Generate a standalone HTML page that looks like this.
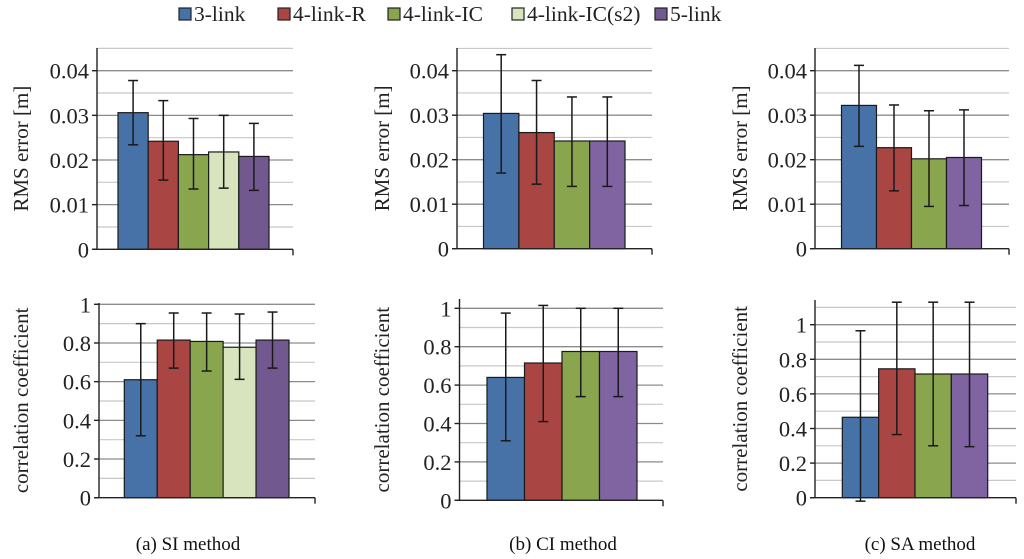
<!DOCTYPE html>
<html><head><meta charset="utf-8"><style>
body{margin:0;background:#fff;width:1024px;height:559px;overflow:hidden}
svg{display:block;font-family:"Liberation Serif",serif}
</style></head><body>
<svg id="c" width="1024" height="559"></svg>
<script>
const seriesNames=["3-link","4-link-R","4-link-IC","4-link-IC(s2)","5-link"];
const seriesColors=["#4672a8","#a94543","#89a54e","#d8e4bd","#71588f"];
const purpleLight="#8064a2";
// RMS values
const siRms=[0.0306,0.0242,0.0212,0.0218,0.0208];
const siRmsLo=[0.0234,0.0155,0.0135,0.0137,0.0132];
const siRmsHi=[0.0378,0.0333,0.0293,0.0300,0.0282];
const ciRms=[0.0304,0.0261,0.0242,0.0242];
const ciRmsLo=[0.0170,0.0145,0.0140,0.0140];
const ciRmsHi=[0.0436,0.0378,0.0341,0.0341];
const saRms=[0.0322,0.0227,0.0202,0.0205];
const saRmsLo=[0.0230,0.0130,0.0095,0.0097];
const saRmsHi=[0.0412,0.0323,0.0310,0.0312];
// correlation values
const siCor=[0.61,0.815,0.808,0.778,0.815];
const siCorLo=[0.32,0.67,0.655,0.612,0.67];
const siCorHi=[0.90,0.955,0.955,0.95,0.96];
const ciCor=[0.64,0.715,0.775,0.775];
const ciCorLo=[0.31,0.41,0.54,0.54];
const ciCorHi=[0.975,1.015,1.0,1.0];
const saCor=[0.465,0.745,0.715,0.715];
const saCorLo=[-0.02,0.365,0.30,0.295];
const saCorHi=[0.965,1.13,1.13,1.13];
const rmsTicks=["0","0.01","0.02","0.03","0.04"];
const corTicks=["0","0.2","0.4","0.6","0.8","1"];
const fourIdx=[0,1,2,4];
const captions=["(a) SI method","(b) CI method","(c) SA method"];

const svg=document.getElementById('c');
const NS="http://www.w3.org/2000/svg";
function mk(tag,attrs,parent){const e=document.createElementNS(NS,tag);for(const k in attrs)e.setAttribute(k,attrs[k]);(parent||svg).appendChild(e);return e;}

function panel(name,g,vals,lo,hi,colIdx,tickLabels,tickStep,minorStep,ymax,title,titleX,purple){
  const grp=mk('g',{});
  
  
  const y=v=>g.y0-(v/g.unit)*g.unitPx;
  for(let v=minorStep;v<=ymax+1e-9;v+=minorStep){
    const isMajor=Math.abs(v/tickStep-Math.round(v/tickStep))<1e-6;
    const l=mk('line',{x1:g.ax,x2:g.right,y1:y(v),y2:y(v),stroke:isMajor?'#8c8c8c':'#c8c8c8','stroke-width':isMajor?1.3:1.2},grp);
    
    
  }
  const bw=(g.bEnd-g.bStart)/vals.length;
  vals.forEach((v,i)=>{
    const x=g.bStart+i*bw;
    const col=colIdx[i]===4&&purple?purple:seriesColors[colIdx[i]];
    const r=mk('rect',{x:x,y:y(v),width:bw,height:y(0)-y(v),fill:col,stroke:'#1a1a1a','stroke-width':1.2},grp);
    
    
  });
  vals.forEach((v,i)=>{
    const cx=g.bStart+i*bw+bw/2;
    const eg=mk('g',{stroke:'#1a1a1a','stroke-width':1.5},grp);
    
    
    mk('line',{x1:cx,x2:cx,y1:y(lo[i]),y2:y(hi[i])},eg);
    mk('line',{x1:cx-5,x2:cx+5,y1:y(lo[i]),y2:y(lo[i])},eg);
    mk('line',{x1:cx-5,x2:cx+5,y1:y(hi[i]),y2:y(hi[i])},eg);
  });
  const ya=mk('line',{x1:g.ax,x2:g.ax,y1:g.top,y2:y(0),stroke:'#222','stroke-width':1.4},grp);
  
  const xa=mk('line',{x1:g.ax-5,x2:g.right,y1:y(0),y2:y(0),stroke:'#222','stroke-width':1.4},grp);
  
  mk('line',{x1:g.right,x2:g.right,y1:y(0),y2:y(0)+6,stroke:'#222','stroke-width':1.4},grp);
  tickLabels.forEach((t,i)=>{
    const v=i*tickStep;
    mk('line',{x1:g.ax-5,x2:g.ax,y1:y(v),y2:y(v),stroke:'#222','stroke-width':1.4},grp);
    const tx=mk('text',{x:g.ax-8,y:y(v)+8,'text-anchor':'end','font-size':22.5,fill:'#222'},grp);
    tx.textContent=t;
    
    
  });
  const cy=(g.top+y(0))/2;
  const tt=mk('text',{x:titleX,y:cy,'text-anchor':'middle','font-size':21,fill:'#222',transform:`rotate(-90 ${titleX} ${cy})`},grp);
  tt.textContent=title;
  
  
}

panel('si-rms-panel',{ax:97,right:293,top:48,y0:249.3,unit:0.01,unitPx:44.65,bStart:118,bEnd:269},siRms,siRmsLo,siRmsHi,[0,1,2,3,4],rmsTicks,0.01,0.005,0.045,'RMS error [m]',28,null);
panel('ci-rms-panel',{ax:457,right:652,top:48,y0:248.7,unit:0.01,unitPx:44.5,bStart:483.5,bEnd:625},ciRms,ciRmsLo,ciRmsHi,fourIdx,rmsTicks,0.01,0.005,0.045,'RMS error [m]',389,purpleLight);
panel('sa-rms-panel',{ax:815,right:1009,top:48,y0:248.7,unit:0.01,unitPx:44.5,bStart:841.5,bEnd:981.5},saRms,saRmsLo,saRmsHi,fourIdx,rmsTicks,0.01,0.005,0.045,'RMS error [m]',747,purpleLight);
panel('si-cor-panel',{ax:99,right:315,top:303,y0:497.7,unit:0.1,unitPx:19.34,bStart:124.3,bEnd:289},siCor,siCorLo,siCorHi,[0,1,2,3,4],corTicks,0.2,0.1,1.0,'correlation coefficient',28,null);
panel('ci-cor-panel',{ax:459.5,right:663,top:299,y0:500.3,unit:0.1,unitPx:19.2,bStart:487,bEnd:637},ciCor,ciCorLo,ciCorHi,fourIdx,corTicks,0.2,0.1,1.0,'correlation coefficient',389,purpleLight);
panel('sa-cor-panel',{ax:815,right:1016,top:300,y0:497.7,unit:0.1,unitPx:17.3,bStart:842.3,bEnd:987.7},saCor,saCorLo,saCorHi,fourIdx,corTicks,0.2,0.1,1.1,'correlation coefficient',747,purpleLight);

const legX=[179,278,388,512,655];
seriesNames.forEach((n,i)=>{
  const lg=mk('g',{});
  
  
  mk('rect',{x:legX[i],y:8,width:12,height:12,fill:seriesColors[i],stroke:'#222','stroke-width':1.2},lg);
  const t=mk('text',{x:legX[i]+15,y:21,'font-size':21.5,fill:'#222'},lg);
  t.textContent=n;
});
const capX=[188,563,920];
captions.forEach((c,i)=>{
  const t=mk('text',{x:capX[i],y:550,'text-anchor':'middle','font-size':19,fill:'#111'});
  t.textContent=c;
  
  
});
</script>
</body></html>
